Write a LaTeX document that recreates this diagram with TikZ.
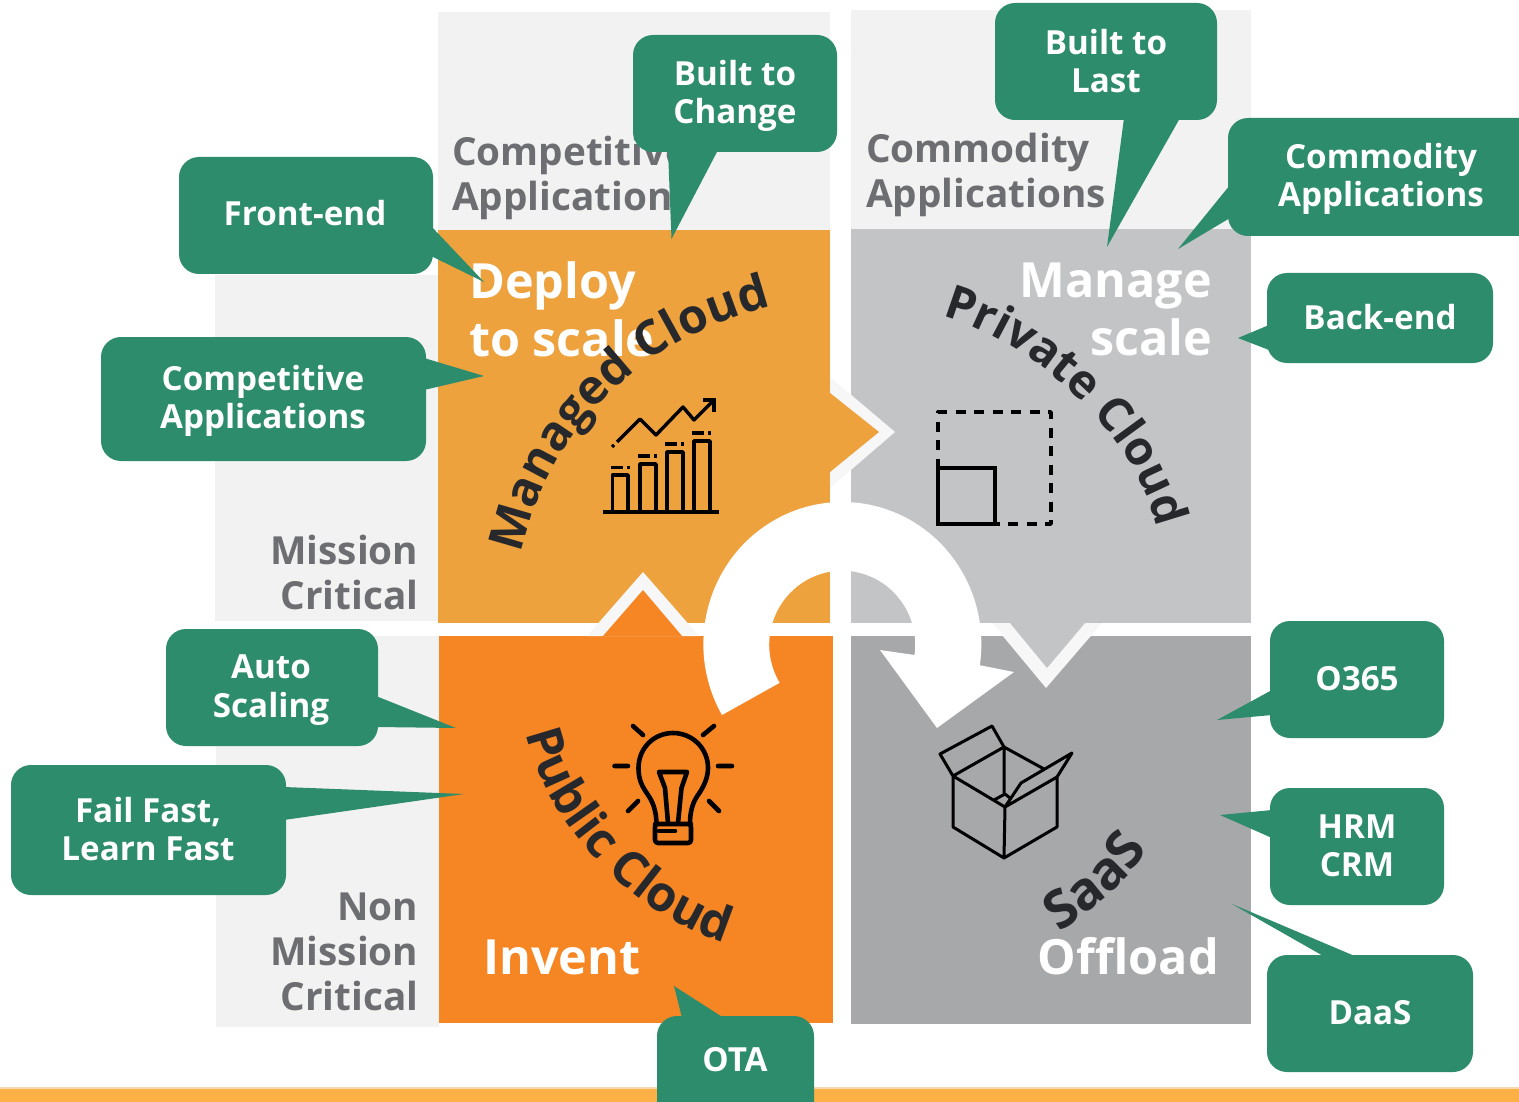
\documentclass[tikz,border=0pt]{standalone}
\usepackage{fontspec}
\setmainfont{Open Sans}
\usetikzlibrary{decorations.text}
\definecolor{orA}{HTML}{EDA23E}
\definecolor{orB}{HTML}{F68624}
\definecolor{grA}{HTML}{C3C4C6}
\definecolor{grB}{HTML}{A7A8AA}
\definecolor{grn}{HTML}{2D8C6C}
\definecolor{pale}{HTML}{F2F2F2}
\definecolor{chev}{HTML}{F7F7F8}
\definecolor{lab}{HTML}{6D6E71}
\definecolor{dk}{HTML}{26282B}
\definecolor{bar}{HTML}{FDB045}
\definecolor{barTop}{HTML}{F6D9AE}
\newcommand{\fs}[2]{\fontsize{#1}{#2}\selectfont\bfseries}
\tikzset{
  x=1pt,y=-1pt,
  lbl/.style={text=lab,inner sep=0,font=\fs{38.7}{45}},
  big/.style={text=white,inner sep=0,font=\fs{48.5}{58}},
  tip/.style={fill=grn,draw=none},
  box/.style={fill=grn,draw=none,rounded corners=20pt},
  ctext/.style={text=white,inner sep=0,align=center,font=\fs{33.2}{38.5}},
  icon/.style={draw=black,line width=3.4pt,line cap=round,line join=round},
  curvetxt/.style={decorate,decoration={text along path,text={#1},text align=left,text color=dk}}
}
\begin{document}
\begin{tikzpicture}
\useasboundingbox (0,0) rectangle (1519,1102);
\fill[white] (0,0) rectangle (1519,1102);
% pale backgrounds
\fill[pale] (438,12) rectangle (830,232);
\fill[pale] (851,10) rectangle (1251,231);
\fill[pale] (215,275) rectangle (438,621);
\fill[pale] (216,636) rectangle (439,1027);
% quadrants
\fill[orA] (438,230) rectangle (830,623);
\fill[grA] (851,229) rectangle (1251,623);
\fill[orB] (439,636) rectangle (833,1023);
\fill[grB] (851,636) rectangle (1251,1024);
% bar
\fill[bar] (0,1087) rectangle (1519,1102);
\fill[barTop] (0,1087) rectangle (1519,1088.5);
% chevrons
\fill[chev] (830,377) -- (895,432) -- (830,488) -- cycle;
\fill[orA] (830,393) -- (879,432) -- (830,472) -- cycle;
\fill[chev] (587,636) -- (643,572) -- (699,636) -- cycle;
\fill[orB] (603,636) -- (643,590) -- (682,636) -- cycle;
\fill[chev] (992,623) -- (1046,688) -- (1102,623) -- cycle;
\fill[white] (985,623) rectangle (1110,636);
\fill[chev] (992,623) -- (1004,636) -- (1091,636) -- (1102,623) -- cycle;
\fill[grA] (1010,623) -- (1047,668) -- (1085,623) -- cycle;
% circular arrow
\fill[white] (722,715) arc[start angle=210,end angle=-8.6,x radius=139pt,y radius=142pt]
  -- (1014,672) -- (937,728) -- (880,650) -- (914.5,655)
  arc[start angle=-8,end angle=211,x radius=73pt,y radius=74pt] -- cycle;
% labels
\begin{scope}
\clip (440,100) rectangle (676,230);
\node[lbl,anchor=west,align=left] (lca) at (452,177.5) {Competitive\\Applications};
\end{scope}
\node[lbl,anchor=west,align=left] (lcb) at (866,174.5) {Commodity\\Applications};
\node[lbl,anchor=east,align=right] (lm) at (418.5,572.5) {Mission\\Critical};
\node[lbl,anchor=east,align=right] (ln) at (418.5,951.5) {Non\\Mission\\Critical};
\node[big,anchor=west,align=left] (bd) at (469,309) {Deploy\\to scale};
\node[big,anchor=east,align=right] (bm) at (1212,309) {Manage\\scale};
\node[big,anchor=west] (bi) at (483,957) {Invent};
\node[big,anchor=east] (bo) at (1219,956) {Offload};
% curved texts
\path[curvetxt={|\fs{48}{48}|Managed}] (521,554) .. controls (545,450) and (600,390) .. (680,340);
\path[curvetxt={|\fs{48}{48}|Cloud}] (647,362) .. controls (685,335) and (725,318) .. (780,304) -- (815,298);
\path[curvetxt={|\fs{47}{47}|Private Cloud}] (942,316) .. controls (1030,340) and (1135,430) .. (1157,528) -- (1165,570);
\path[curvetxt={|\fs{49}{49}|Public Cloud}] (526,733) .. controls (545,820) and (630,915) .. (725,943) -- (765,950);
\path[curvetxt={|\fs{53}{53}|SaaS}] (1059,932) .. controls (1090,912) and (1125,885) .. (1150,847) -- (1175,812);
% chart icon
\draw[icon,line cap=butt] (603,512) -- (719,512);
\draw[icon,line cap=butt] (612.5,512) |- (628,475) -- (628,512);
\draw[icon,line cap=butt] (640,512) |- (656,464) -- (656,512);
\draw[icon,line cap=butt] (667,512) |- (683,452) -- (683,512);
\draw[icon,line cap=butt] (694,512) |- (710,441) -- (710,512);
\draw[icon,line cap=butt] (611,467.5) -- (623,467.5) (627,467.5) -- (630,467.5);
\draw[icon,line cap=butt] (638,456) -- (650,456) (654,456) -- (657,456);
\draw[icon,line cap=butt] (665,444) -- (677,444) (681,444) -- (684,444);
\draw[icon,line cap=butt] (692,433) -- (704,433) (708,433) -- (711,433);
\draw[icon,line cap=butt] (612,447) -- (614,445) (617,442) -- (640,419) -- (656,435) -- (683,407) -- (694,420) -- (713,401);
\draw[icon,line cap=butt,line join=miter] (703,400) -- (714,400) -- (714,412);
% resize icon
\draw[icon,line cap=butt,dash pattern=on 10pt off 8.5pt] (938,524) -- (938,412) -- (1051,412) -- (1051,524) -- (995,524);
\draw[icon,line join=miter] (938,468) rectangle (995,524);
% bulb icon
\begin{scope}[icon/.append style={line width=4.6pt}]
\draw[icon] (614.5,766) -- (628,766) (718,766) -- (732,766) (633,726) -- (643,735) (714,726) -- (703,735) (628,811) -- (638,801) (719,811) -- (709,801);
\draw[icon] (656.5,824) .. controls (656,805) and (650,798) .. (646,792) .. controls (640,783) and (638.5,776) .. (638.5,768) .. controls (638.5,748) and (654,733) .. (673,733) .. controls (692,733) and (708,748) .. (708,768) .. controls (708,776) and (705,784) .. (700,792) .. controls (696,798) and (690,805) .. (690,824);
\draw[icon,rounded corners=3pt] (655,824) rectangle (691,843);
\draw[icon] (655,824) -- (691,824) (659,831) -- (675,831);
\draw[icon] (668,823) -- (665,788) -- (659,772) -- (687,772) -- (681.5,788) -- (678,823);
\end{scope}
% box icon
\draw[icon,line width=3pt] (1004,747) -- (953,776) -- (1005,807) -- (1057,777) (1004,747) -- (1044,769)
  (953,776) -- (953,827) -- (1004,858) -- (1057,827) -- (1057,777) (1005,807) -- (1004,858)
  (953,776) -- (940,754) -- (992,726) -- (1004,747) -- (1004,793)
  (994,800) -- (1005,794) -- (1010,798)
  (1005,807) -- (1021,783) -- (1072,753) -- (1057,777);
% callouts
\fill[tip] (668,150) -- (718,150) -- (671.5,239) -- cycle;
\fill[box] (633,35) rectangle (837,152);
\node[ctext] (c1) at (735,96) {Built to\\Change};
\fill[tip] (1124,118) -- (1180,118) -- (1107,247) -- cycle;
\fill[box] (995,3) rectangle (1217,120);
\node[ctext] (c2) at (1106,61) {Built to\\Last};
\fill[tip] (1230,185) -- (1230,218) -- (1178,249) -- cycle;
\fill[box] (1228,118) rectangle (1560,236);
\node[ctext] (c3) at (1381,179) {Commodity\\Applications};
\fill[tip] (431,226) -- (431,256) -- (484,282) -- cycle;
\fill[box] (179,157) rectangle (433,274);
\node[ctext] (c4) at (305,213.5) {Front-end};
\fill[tip] (424,358) -- (424,390) -- (484,376) -- cycle;
\fill[box] (101,337) rectangle (426,461);
\node[ctext] (c5) at (263,401) {Competitive\\Applications};
\fill[tip] (1269,325) -- (1269,350) -- (1238,338) -- cycle;
\fill[box] (1267,273) rectangle (1493,363);
\node[ctext] (c6) at (1380,317) {Back-end};
\fill[tip] (376,696) -- (376,727) -- (456,728) -- cycle;
\fill[box] (166,629) rectangle (378,746);
\node[ctext] (c7) at (271,690) {Auto\\Scaling};
\fill[tip] (284,787) -- (284,820) -- (464,794) -- cycle;
\fill[box] (11,765) rectangle (286,895);
\node[ctext] (c8) at (148,829) {Fail Fast,\\Learn Fast};
\fill[tip] (1272,690) -- (1272,715) -- (1217,720) -- cycle;
\fill[box] (1270,621) rectangle (1444,738);
\node[ctext] (c9) at (1357,679) {O365};
\fill[tip] (1272,810) -- (1272,838) -- (1220,815) -- cycle;
\fill[box] (1270,788) rectangle (1444,905);
\node[ctext] (c10) at (1357,846) {HRM\\CRM};
\fill[tip] (1325,957) -- (1357,957) -- (1232,904) -- cycle;
\fill[box] (1267,955) rectangle (1473,1072);
\node[ctext] (c11) at (1370,1013) {DaaS};
\fill[tip] (682,1018) -- (724,1018) -- (674,986) -- cycle;
\fill[box] (657,1016) rectangle (814,1140);
\node[ctext] (c12) at (735,1060) {OTA};
\end{tikzpicture}
\end{document}
